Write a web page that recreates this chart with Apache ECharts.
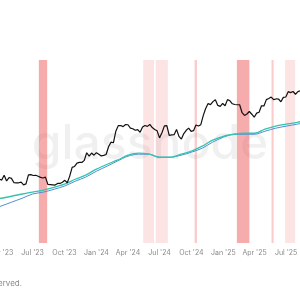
<!DOCTYPE html>
<html>
<head>
    <meta charset="utf-8">
    <title>Price vs averages</title>
    <script src="https://cdn.jsdelivr.net/npm/echarts@6/dist/echarts.min.js"></script>
    <style>
        html, body { margin: 0; padding: 0; background: #fff; }
        #main { width: 300px; height: 300px; }
    </style>
</head>
<body>
<div id="main"></div>
<script type="text/javascript">
    // weekly price, thousands USD, first week starts 2023-03-20
    var priceK = [
        28.0, 28.4, 28.0, 30.3, 27.6, 29.2, 28.8, 26.9, 26.8, 26.8, 27.1, 25.9, 26.3, 30.5, 30.6, 30.2,
        30.3, 29.8, 29.3, 29.0, 29.4, 26.1, 26.0, 25.9, 25.8, 26.5, 26.5, 27.0, 27.9, 26.8, 29.9, 34.5,
        35.0, 37.0, 37.4, 37.4, 38.7, 43.8, 41.4, 43.6, 42.1, 43.9, 42.8, 41.6, 42.0, 42.6, 48.3, 52.1,
        51.6, 62.4, 68.3, 68.4, 67.2, 69.6, 69.3, 65.6, 64.9, 63.3, 63.9, 61.2, 66.9, 68.5, 67.5, 69.6,
        66.2, 64.2, 62.7, 55.9, 60.8, 68.0, 68.2, 58.1, 58.7, 58.9, 64.2, 57.3, 54.8, 60.0, 63.3, 65.6,
        62.1, 62.9, 69.0, 67.9, 69.4, 80.4, 90.5, 98.0, 96.4, 101.2, 104.4, 95.1, 93.7, 98.2, 94.5, 104.6,
        102.6, 97.7, 96.5, 96.1, 96.1, 84.4, 80.7, 82.6, 86.1, 82.3, 78.4, 83.8, 85.0, 94.6, 94.3, 104.6,
        106.5, 109.0, 104.6, 105.7, 105.6, 100.9, 108.4, 109.2, 119.1, 117.3, 119.4, 114.2, 119.3, 121.0
    ];
    // monthly averages, thousands USD, first month 2023-03
    var tealK = [
        20.2, 20.8, 21.5, 22.3, 23.0, 23.8, 24.9, 26.2, 28.4, 30.4, 33.5, 36.3, 38.8, 42.1, 43.5, 42.8,
        40.7, 40.7, 42.8, 45.0, 48.8, 53.8, 57.4, 59.3, 60.3, 60.3, 64.4, 67.7, 69.9, 72.1, 74.6
    ];
    var blueK = [
        17.4, 18.3, 19.5, 20.8, 22.3, 23.0, 24.1, 25.4, 27.5, 29.4, 32.4, 35.2, 38.2, 41.4, 42.8, 42.8,
        40.7, 40.7, 42.1, 44.2, 47.2, 52.1, 56.5, 59.3, 59.3, 59.3, 62.3, 65.5, 67.7, 69.9, 72.1
    ];
    // shaded periods
    var bandStart = ['2023-07-19', '2024-05-15', '2024-06-20', '2024-10-10', '2025-02-09', '2025-05-20', '2025-06-28'];
    var bandEnd   = ['2023-08-12', '2024-06-15', '2024-07-25', '2024-10-17', '2025-03-17', '2025-05-26', '2025-07-27'];
    var bandLevel = ['strong', 'light', 'light', 'medium', 'strong', 'medium', 'light'];
    var tickLabels = ["Apr '23", "Jul '23", "Oct '23", "Jan '24", "Apr '24", "Jul '24", "Oct '24", "Jan '25", "Apr '25", "Jul '25"];

    var bandColors = {
        strong: 'rgba(236,72,72,0.45)',
        medium: 'rgba(236,72,72,0.28)',
        light: 'rgba(236,72,72,0.15)'
    };
    var months = ['Jan', 'Feb', 'Mar', 'Apr', 'May', 'Jun', 'Jul', 'Aug', 'Sep', 'Oct', 'Nov', 'Dec'];

    function toTime(s) {
        var p = s.split('-');
        return new Date(+p[0], +p[1] - 1, +p[2]).getTime();
    }

    var priceData = priceK.map(function (v, i) {
        return [new Date(2023, 2, 20 + 7 * i).getTime(), v];
    });
    var tealData = tealK.map(function (v, i) {
        return [new Date(2023, 2 + i, 1).getTime(), v];
    });
    var blueData = blueK.map(function (v, i) {
        return [new Date(2023, 2 + i, 1).getTime(), v];
    });

    // tick positions parsed from the labels
    var tickValues = tickLabels.map(function (t) {
        var m = months.indexOf(t.slice(0, 3));
        return new Date(2000 + +t.slice(-2), m, 1).getTime();
    });

    var bands = bandStart.map(function (s, i) {
        return [
            { xAxis: toTime(s), itemStyle: { color: bandColors[bandLevel[i]] } },
            { xAxis: toTime(bandEnd[i]) }
        ];
    });

    var myChart = echarts.init(document.getElementById('main'));

    var option = {
        animation: false,
        grid: { left: 0, right: 0, top: 60, bottom: 57, containLabel: false, outerBoundsMode: 'none' },
        xAxis: {
            type: 'value',
            min: toTime('2023-03-29'),
            max: toTime('2025-08-10'),
            axisLine: { show: false },
            axisTick: { show: false },
            splitLine: { show: false },
            axisLabel: {
                customValues: tickValues,
                formatter: function (val) {
                    var d = new Date(val);
                    return months[d.getMonth()] + " '" + String(d.getFullYear()).slice(2);
                },
                alignMinLabel: 'center',
                alignMaxLabel: 'center',
                color: '#8a8a8a',
                fontSize: 7,
                fontFamily: 'Inter',
                margin: 6
            }
        },
        yAxis: {
            type: 'log',
            logBase: 10,
            min: 10,
            max: 200,
            axisLine: { show: false },
            axisTick: { show: false },
            axisLabel: { show: false },
            splitLine: { show: false }
        },
        graphic: [
            {
                type: 'text',
                left: 'center',
                top: 121,
                z: 0,
                style: {
                    text: 'glassnode',
                    font: '500 48px Inter',
                    fill: 'rgba(0,0,0,0.06)'
                }
            },
            {
                type: 'text',
                x: 22,
                y: 284,
                style: {
                    text: '\u00a9 2025 Glassnode. All rights reserved.',
                    font: '8px Inter',
                    fill: '#8a8a8a',
                    align: 'right',
                    verticalAlign: 'middle'
                }
            }
        ],
        series: [
            {
                type: 'line',
                name: 'Average B',
                data: blueData,
                showSymbol: false,
                smooth: 0.3,
                z: 3,
                lineStyle: { color: '#4f8fd0', width: 1 },
                markArea: { silent: true, z: 1, data: bands }
            },
            {
                type: 'line',
                name: 'Average A',
                data: tealData,
                showSymbol: false,
                smooth: 0.3,
                z: 4,
                lineStyle: { color: '#35c3b0', width: 1.3 }
            },
            {
                type: 'line',
                name: 'Price',
                data: priceData,
                showSymbol: false,
                z: 5,
                lineStyle: { color: '#111', width: 1.2 }
            }
        ]
    };

    myChart.setOption(option);
</script>
</body>
</html>
